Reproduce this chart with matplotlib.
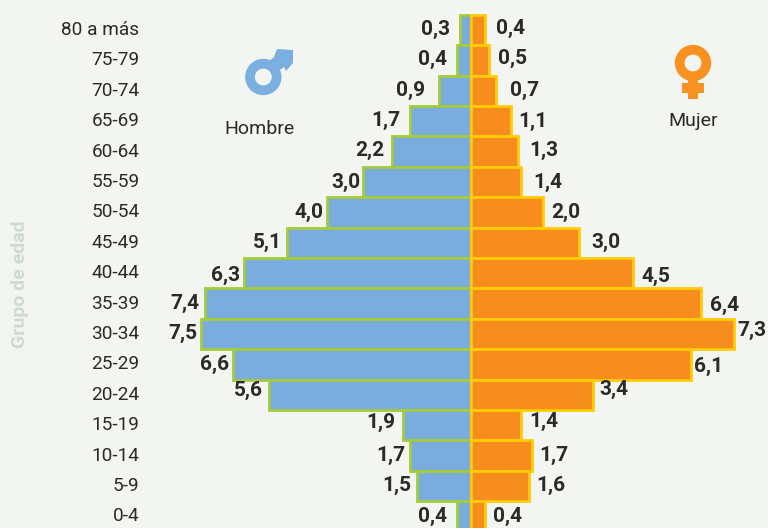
import matplotlib
matplotlib.use("Agg")
import matplotlib.pyplot as plt
from matplotlib.patches import Circle, Rectangle, Polygon
from matplotlib.transforms import ScaledTranslation

plt.rcParams['font.family'] = ['Roboto', 'DejaVu Sans']

age_groups = ["80 a más", "75-79", "70-74", "65-69", "60-64", "55-59", "50-54", "45-49", "40-44",
              "35-39", "30-34", "25-29", "20-24", "15-19", "10-14", "5-9", "0-4"]
hombre = [0.3, 0.4, 0.9, 1.7, 2.2, 3.0, 4.0, 5.1, 6.3, 7.4, 7.5, 6.6, 5.6, 1.9, 1.7, 1.5, 0.4]
mujer = [0.4, 0.5, 0.7, 1.1, 1.3, 1.4, 2.0, 3.0, 4.5, 6.4, 7.3, 6.1, 3.4, 1.4, 1.7, 1.6, 0.4]

# hand placement of the value labels, in pixels (gap from bar end, vertical shift)
male_gap = [10, 10, 13, 9, 7, 3, 4, 5, 4, 5, 4, 4, 6, 7, 4, 6, 10]
female_gap = [11, 9, 14, 8, 11, 12, 8, 12, 8, 9, 4, 3, 6, 8, 7, 8, 8]
male_dy = [1, 1, 0, 1, 1, 0, 0, 0, -2, 0, 1, 0, 4, 3, 0, 1, 0]
female_dy = [2, 2, 0, 0, 1, 0, 0, 0, -3, -2, 4, -2, 5, 4, 0, 1, 0]

W, H = 768, 528
BG = '#F3F5F2'
BLUE, GREEN = '#7AADDE', '#A4CB3A'
ORANGE, YELLOW = '#F78D1F', '#FFCC05'
DARK = '#2B2A29'

fig = plt.figure(figsize=(W / 100, H / 100), dpi=100, facecolor=BG)
left = 145
zero_px = 471
ax = fig.add_axes([left / W, 0, (W - left) / W, 1], facecolor='none')
ppu = 36.0
ax.set_xlim((left - zero_px) / ppu, (W - zero_px) / ppu)
row = 30.4
ax.set_ylim((528 - 30) / row, -30 / row)

y = list(range(len(age_groups)))
ax.barh(y, [-v for v in hombre], height=1, color=BLUE, edgecolor=GREEN, linewidth=2.0, zorder=2)
ax.barh(y, mujer, height=1, color=ORANGE, edgecolor=YELLOW, linewidth=2.0, zorder=3)

for i in y:
    ax.annotate(f"{hombre[i]:.1f}".replace('.', ','), (-hombre[i], i), xytext=(-male_gap[i] * 0.72, male_dy[i] * 0.72),
                textcoords='offset points', ha='right', va='center', fontsize=15, fontweight='bold', color=DARK)
    ax.annotate(f"{mujer[i]:.1f}".replace('.', ','), (mujer[i], i), xytext=(female_gap[i] * 0.72, female_dy[i] * 0.72),
                textcoords='offset points', ha='left', va='center', fontsize=15, fontweight='bold', color=DARK)

for s in ax.spines.values():
    s.set_visible(False)
ax.set_xticks([])
ax.set_yticks(y)
ax.set_yticklabels(age_groups, fontsize=13.7, color=DARK)
ax.tick_params(axis='y', length=0, pad=4)
shift = ScaledTranslation(0, 1.5 / 72, fig.dpi_scale_trans)
for t in ax.get_yticklabels():
    t.set_transform(t.get_transform() + shift)

fig.text(20 / W, 1 - 284 / H, "Grupo de edad", rotation=90, ha='center', va='center',
         fontsize=14, fontweight='bold', color='#CFDBCF')
fig.text(259.5 / W, 1 - 129 / H, "Hombre", ha='center', va='center', fontsize=14, color=DARK)
fig.text(693 / W, 1 - 121.5 / H, "Mujer", ha='center', va='center', fontsize=14, color=DARK)

# gender icons on an overlay in pixel coordinates
ov = fig.add_axes([0, 0, 1, 1], facecolor='none')
ov.set_xlim(0, W)
ov.set_ylim(H, 0)
ov.axis('off')
ICON_BLUE = '#7AAFE0'
ICON_ORANGE = '#F99120'
ov.add_patch(Circle((263.3, 77), 13.3, fill=False, edgecolor=ICON_BLUE, linewidth=7))
ov.add_patch(Polygon([(277, 49), (293, 50), (293, 63), (286, 71), (284, 67), (277, 72), (268, 62), (274, 57)],
                     closed=True, color=ICON_BLUE, lw=0))
ov.add_patch(Circle((693, 63), 13.3, fill=False, edgecolor=ICON_ORANGE, linewidth=7))
ov.add_patch(Rectangle((688, 78), 10, 21, color=ICON_ORANGE, lw=0))
ov.add_patch(Rectangle((682, 83), 22, 10, color=ICON_ORANGE, lw=0))

fig.savefig("out.png", dpi=100, facecolor=BG)
